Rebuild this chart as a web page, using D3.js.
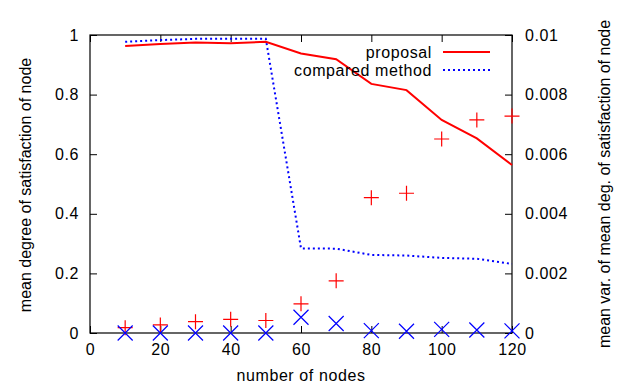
<!DOCTYPE html>
<html>
<head>
<meta charset="utf-8">
<script src="https://cdn.jsdelivr.net/npm/d3@7"></script>
<style>
body { margin: 0; background: #fff; }
text { font-family: "Liberation Sans", Arial, sans-serif; font-size: 16px; fill: #000; }
.hz { letter-spacing: 0.6px; }
</style>
</head>
<body>
<div id="the_chart"></div>
<script>
var nodes = [10, 20, 30, 40, 50, 60, 70, 80, 90, 100, 110, 120];
var proposal = [0.963, 0.970, 0.975, 0.972, 0.977, 0.938, 0.919, 0.836, 0.815, 0.715, 0.653, 0.564];
var compared = [0.977, 0.983, 0.987, 0.987, 0.987, 0.284, 0.283, 0.262, 0.260, 0.252, 0.249, 0.232];
var proposalVar = [0.00018, 0.00027, 0.00038, 0.00046, 0.00042, 0.00098, 0.00175, 0.00454, 0.00469, 0.00651, 0.00715, 0.00728];
var comparedVar = [0, 0, 0, 0, 0, 0.00053, 0.00032, 0.00008, 0.00006, 0.00012, 0.0001, 0.00007];
var xTicks = [0, 20, 40, 60, 80, 100, 120];
var yTicks = [0, 0.2, 0.4, 0.6, 0.8, 1];
var y2Ticks = [0, 0.002, 0.004, 0.006, 0.008, 0.01];

gen_vis();

function gen_vis() {
    var w = 623;
    var h = 385;
    var pl = 90, pr = 512, pt = 35, pb = 333;

    var svg = d3.select("#the_chart")
        .append("svg")
        .attr("width", w)
        .attr("height", h);

    var x = d3.scaleLinear().domain([0, 120]).range([pl, pr]);
    var y = d3.scaleLinear().domain([0, 1]).range([pb, pt]);
    var y2 = d3.scaleLinear().domain([0, 0.01]).range([pb, pt]);

    var tick = 7;

    // bottom axis, ticks pointing in
    svg.append("g")
        .attr("transform", "translate(0," + pb + ")")
        .call(d3.axisBottom(x).tickValues(xTicks).tickSizeInner(-tick).tickSizeOuter(0).tickPadding(11))
        .call(function (g) { g.select(".domain").remove(); });

    // top mirror ticks
    svg.append("g")
        .attr("transform", "translate(0," + pt + ")")
        .call(d3.axisTop(x).tickValues(xTicks).tickSizeInner(-tick).tickSizeOuter(0).tickFormat(""))
        .call(function (g) { g.select(".domain").remove(); });

    // left axis
    svg.append("g")
        .attr("transform", "translate(" + pl + ",0)")
        .call(d3.axisLeft(y).tickValues(yTicks).tickSizeInner(-tick).tickSizeOuter(0).tickPadding(11).tickFormat(d3.format("")))
        .call(function (g) { g.select(".domain").remove(); });

    // right axis
    svg.append("g")
        .attr("transform", "translate(" + pr + ",0)")
        .call(d3.axisRight(y2).tickValues(y2Ticks).tickSizeInner(-tick).tickSizeOuter(0).tickPadding(13).tickFormat(d3.format("")))
        .call(function (g) { g.select(".domain").remove(); });

    svg.selectAll(".tick line").attr("stroke", "#000");
    svg.selectAll(".tick text")
        .attr("class", "hz")
        .style("font-size", "16px")
        .style("font-family", "Liberation Sans, Arial, sans-serif");

    // frame
    svg.append("rect")
        .attr("x", pl).attr("y", pt)
        .attr("width", pr - pl).attr("height", pb - pt)
        .attr("fill", "none").attr("stroke", "#000").attr("stroke-width", 1.2);

    // axis labels
    svg.append("text")
        .attr("class", "hz")
        .attr("x", (pl + pr) / 2).attr("y", 381)
        .attr("text-anchor", "middle")
        .text("number of nodes");

    svg.append("text")
        .attr("transform", "translate(31," + 185 + ") rotate(-90)")
        .attr("text-anchor", "middle")
        .text("mean degree of satisfaction of node");

    svg.append("text")
        .attr("transform", "translate(610," + 184 + ") rotate(-90)")
        .attr("text-anchor", "middle")
        .text("mean var. of mean deg. of satisfaction of node");

    var line = d3.line()
        .x(function (d) { return x(d[0]); })
        .y(function (d) { return y(d[1]); });

    svg.append("path")
        .datum(nodes.map(function (n, i) { return [n, compared[i]]; }))
        .attr("d", line)
        .attr("fill", "none")
        .attr("stroke", "#0000ff")
        .attr("stroke-width", 2)
        .attr("stroke-dasharray", "2,3");

    svg.append("path")
        .datum(nodes.map(function (n, i) { return [n, proposal[i]]; }))
        .attr("d", line)
        .attr("fill", "none")
        .attr("stroke", "#ff0000")
        .attr("stroke-width", 2);

    // variance markers
    var m = 7.5;
    svg.selectAll(".plus")
        .data(nodes.map(function (n, i) { return [n, proposalVar[i]]; }))
        .enter()
        .append("path")
        .attr("class", "plus")
        .attr("d", function (d) {
            var cx = x(d[0]), cy = y2(d[1]);
            return "M" + (cx - m) + "," + cy + "H" + (cx + m) + "M" + cx + "," + (cy - m) + "V" + (cy + m);
        })
        .attr("stroke", "#ff0000")
        .attr("stroke-width", 1.2)
        .attr("fill", "none");

    svg.selectAll(".cross")
        .data(nodes.map(function (n, i) { return [n, comparedVar[i]]; }))
        .enter()
        .append("path")
        .attr("class", "cross")
        .attr("d", function (d) {
            var cx = x(d[0]), cy = y2(d[1]);
            return "M" + (cx - m) + "," + (cy - m) + "L" + (cx + m) + "," + (cy + m) +
                "M" + (cx - m) + "," + (cy + m) + "L" + (cx + m) + "," + (cy - m);
        })
        .attr("stroke", "#0000ff")
        .attr("stroke-width", 1.2)
        .attr("fill", "none");

    // legend
    var legend = [
        { name: "proposal", color: "#ff0000", dash: null, y: 52 },
        { name: "compared method", color: "#0000ff", dash: "2,3", y: 70 }
    ];
    legend.forEach(function (d) {
        svg.append("text")
            .attr("class", "hz")
            .attr("x", 432).attr("y", d.y + 6)
            .attr("text-anchor", "end")
            .text(d.name);
        svg.append("line")
            .attr("x1", 443).attr("x2", 490)
            .attr("y1", d.y).attr("y2", d.y)
            .attr("stroke", d.color)
            .attr("stroke-width", 2)
            .attr("stroke-dasharray", d.dash);
    });
}
</script>
</body>
</html>
